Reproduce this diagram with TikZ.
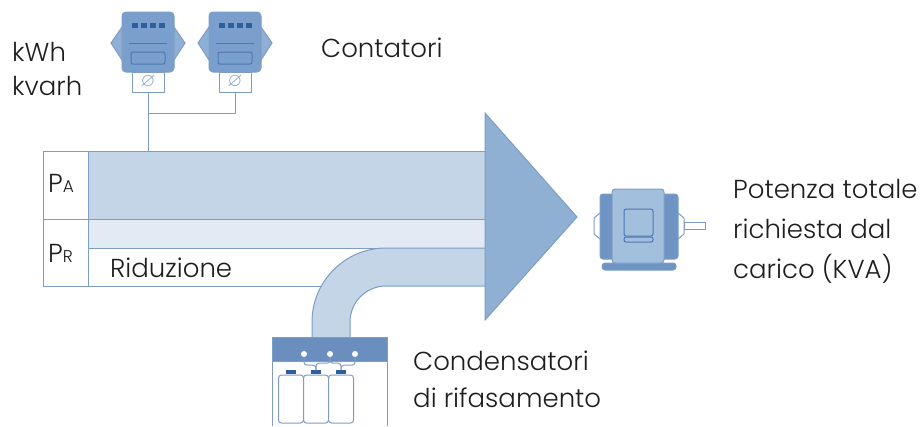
\documentclass[tikz,border=0pt]{standalone}
\usepackage{amssymb}
\usepackage{fontspec}
\setmainfont{Poppins}[UprightFont=* Light]
\usetikzlibrary{positioning}
\definecolor{lineblue}{HTML}{7D9DC5}
\definecolor{bandA}{HTML}{C4D5E7}
\definecolor{bandR}{HTML}{E2EAF3}
\definecolor{headblue}{HTML}{8FAFD3}
\definecolor{meterblue}{HTML}{7A9FCC}
\definecolor{meterwing}{HTML}{8FB0D6}
\definecolor{meterdark}{HTML}{2E5E9E}
\definecolor{meterline}{HTML}{4C78AF}
\definecolor{capblue}{HTML}{6A8FBF}
\definecolor{motorlight}{HTML}{A3BFDE}
\definecolor{motordark}{HTML}{6E94C4}
\definecolor{textgray}{HTML}{1E1E1E}
\tikzset{band/.style = {draw=lineblue, line width=1}}
\tikzset{txt/.style = {anchor=base west, inner sep=0, text=textgray, font=\fontsize{26}{31}\selectfont}}
\tikzset{termbox/.style = {draw=lineblue, line width=1, fill=white, minimum width=32, minimum height=20, inner sep=0, text=lineblue, font=\fontsize{19}{22}\selectfont}}
\tikzset{dot/.style = {circle, fill=white, inner sep=0, minimum size=6}}
\tikzset{can/.style = {draw=lineblue, line width=1, fill=white, rounded corners=3, minimum width=25, minimum height=48, inner sep=0}}
\tikzset{capcap/.style = {fill=meterdark, minimum width=10, minimum height=4, inner sep=0, anchor=south}}

\begin{document}
\begin{tikzpicture}[x=1pt, y=-1pt]
    \useasboundingbox (0,0) rectangle (923,426);

    % power bands
    \draw [band, fill=bandA] (88,151) rectangle (490,219);
    \draw [band, fill=bandR] (88,219) rectangle (490,248);
    \draw [band] (43,151) rectangle (88,286);
    \draw [band] (43,219) -- (88,219);
    \draw [band] (88,286) -- (322,286);

    % pipe from the capacitors
    \draw [band, fill=bandA] (312,337) -- (312,322) arc[start angle=180, end angle=270, radius=74] -- (490,248) -- (490,286) -- (386,286) arc[start angle=270, end angle=180, radius=36] -- (350,337);

    \draw [band, fill=headblue] (485,113) -- (577,217) -- (485,320) -- cycle;

    \node [txt] (PA) at (48,192) {P\fontsize{17}{20}\selectfont A};
    \node [txt] (PR) at (48,262) {P\fontsize{17}{20}\selectfont R};
    \node [txt] (rid) at (110,277) {Riduzione};

    % meters
    \foreach \x/\n in {148/m1, 235/m2} {
        \draw [band, fill=meterwing] (\x-37,43) -- (\x-26,27) -- (\x+26,27) -- (\x+37,43) -- (\x+26,60) -- (\x-26,60) -- cycle;
        \draw [band, fill=meterblue, rounded corners=4] (\x-26,12) rectangle (\x+26,72);
        \foreach \i in {0,...,3}
            \fill [meterdark] (\x-16+\i*9,23) rectangle ++(6,5);
        \draw [meterline, line width=1] (\x-19,43) -- (\x+19,43);
        \draw [meterline, line width=1, rounded corners=2] (\x-17,52) rectangle (\x+17,64);
        \node [termbox] (\n) at (\x,82) {$\varnothing$};
    }
    \coordinate (j) at (148,113);
    \coordinate (bandtop) at (148,151);
    \draw [band] (m1.south) -- (j) -| (m2.south);
    \draw [band] (j) -- (bandtop);

    \node [txt] (kwh) at (12,61) {kWh};
    \node [txt] (kvarh) at (12,95) {kvarh};
    \node [txt] (cont) at (321,57) {Contatori};

    % capacitor bank
    \fill [capblue] (272,337) rectangle (387,361);
    \draw [band] (272,426) -- (272,337) -- (387,337) -- (387,426);
    \draw [band] (272,361) -- (387,361);
    \foreach \x/\n in {304/d1, 330/d2, 355/d3}
        \node [dot] (\n) at (\x,354) {};
    \foreach \x/\n in {291/1, 316/2, 341/3} {
        \node [can] (c\n) at (\x,399) {};
        \node [capcap] (k\n) at (c\n.north) {};
    }
    \draw [band, rounded corners=3] (d1.south) -- ++(0,8) -| (k2.north);
    \draw [band, rounded corners=3] (d3.south) -- ++(0,8) -| (k3.north);
    \draw [band, rounded corners=3] (d2.south) -- ++(0,6) -| (k2.north);
    \draw [band, rounded corners=3] (d2.south) -- ++(0,6) -| (k3.north);

    \node [txt] (cond1) at (413,370) {Condensatori};
    \node [txt] (cond2) at (413,407) {di rifasamento};

    % motor
    \draw [band, fill=white] (600,213) -- (594,218) -- (594,234) -- (600,239);
    \draw [band, fill=white] (678,213) -- (684,218) -- (684,234) -- (678,239);
    \draw [band, fill=white] (684,222) rectangle (705,229);
    \draw [band, fill=motordark, rounded corners=3] (600,194) rectangle (678,259);
    \draw [band, fill=motordark, rounded corners=3] (602,263) rectangle (676,270);
    \draw [band, fill=motorlight, rounded corners=3] (612,189) rectangle (664,263);
    \draw [meterline, line width=1, rounded corners=2] (624,209) rectangle (653,236);
    \draw [meterline, line width=1, rounded corners=2] (624,237) rectangle (653,242);

    \node [txt] (pot1) at (733,198) {Potenza totale};
    \node [txt] (pot2) at (733,238) {richiesta dal};
    \node [txt] (pot3) at (733,278) {carico (KVA)};
\end{tikzpicture}
\end{document}
